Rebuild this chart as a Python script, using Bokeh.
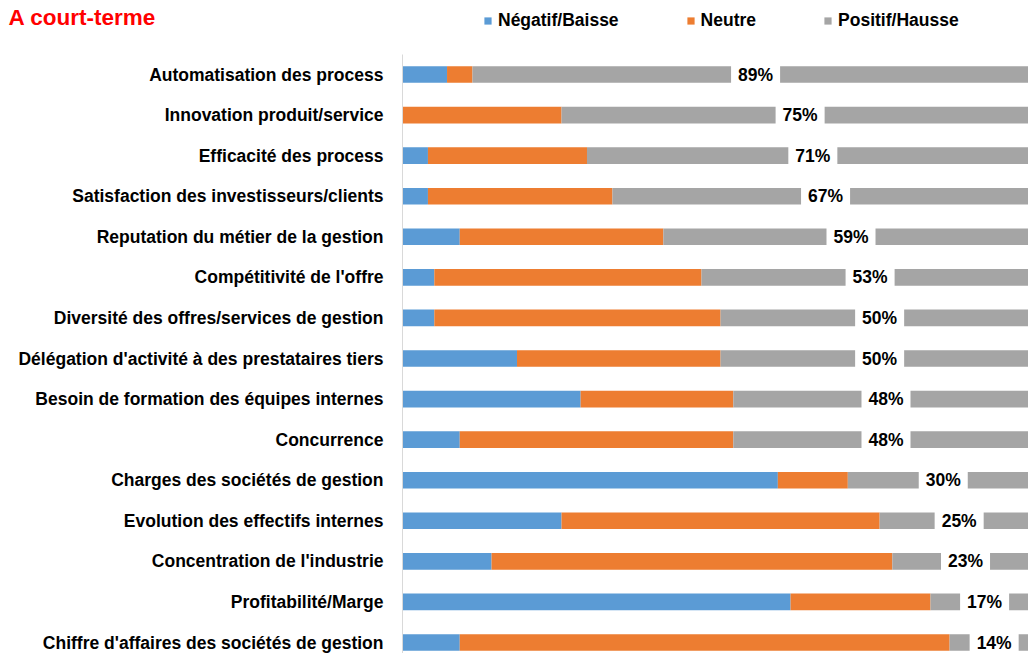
from bokeh.plotting import figure
from bokeh.layouts import column
from bokeh.models import (ColumnDataSource, FixedTicker, Legend, LegendItem, Range1d, Label)
from bokeh.core.properties import value
from bokeh.embed import file_html
from bokeh.resources import INLINE

categories = [
    "Automatisation des process",
    "Innovation produit/service",
    "Efficacité des process",
    "Satisfaction des investisseurs/clients",
    "Reputation du métier de la gestion",
    "Compétitivité de l'offre",
    "Diversité des offres/services de gestion",
    "Délégation d'activité à des prestataires tiers",
    "Besoin de formation des équipes internes",
    "Concurrence",
    "Charges des sociétés de gestion",
    "Evolution des effectifs internes",
    "Concentration de l'industrie",
    "Profitabilité/Marge",
    "Chiffre d'affaires des sociétés de gestion",
]
negatif = [7, 0, 4, 4, 9, 5, 5, 18, 28, 9, 59, 25, 14, 61, 9]
neutre = [4, 25, 25, 29, 32, 42, 45, 32, 24, 43, 11, 50, 63, 22, 77]
positif = [89, 75, 71, 67, 59, 53, 50, 50, 48, 48, 30, 25, 23, 17, 14]
series_names = ["Négatif/Baisse", "Neutre", "Positif/Hausse"]
colors = ["#5b9bd5", "#ed7d31", "#a5a5a5"]
title_text = "A court-terme"

n = len(categories)
ypos = [n - 1 - i for i in range(n)]
src = ColumnDataSource(dict(
    y=ypos,
    neg=negatif,
    neu=neutre,
    pos=positif,
    lab=[f"{v}%" for v in positif],
    labx=[a + b + c / 2 for a, b, c in zip(negatif, neutre, positif)],
))

FONT = "Liberation Sans"
FS = "17.5px"

# ---------- header: title + legend ----------
head = figure(width=1028, height=54, output_backend="svg", toolbar_location=None,
              x_range=Range1d(0, 1028), y_range=Range1d(54, 0),
              min_border_left=0, min_border_right=0, min_border_top=0,
              min_border_bottom=0, outline_line_color=None,
              x_axis_type=None, y_axis_type=None, frame_align=False)
head.xgrid.visible = False
head.ygrid.visible = False
head_r = head.hbar_stack(["neg", "neu", "pos"], y="y", height=0.41, color=colors,
                         source=src, line_color=None)
for r in head_r:
    r.visible = False
legend = Legend(items=[LegendItem(label=s, renderers=[r]) for s, r in zip(series_names, head_r)],
                orientation="horizontal", location=(483, 23), padding=0, margin=0,
                spacing=67, glyph_width=9, glyph_height=9, label_standoff=6,
                label_height=16, label_text_font=FONT, label_text_font_style="bold",
                label_text_font_size=FS, label_text_color="#000000",
                border_line_color=None, background_fill_alpha=0, click_policy="none")
head.add_layout(legend, "center")
head.add_layout(Label(x=8, y=17, text=title_text, text_color="#ff0000", text_font=FONT,
                      text_font_style="bold", text_font_size="22.5px",
                      text_baseline="middle", text_align="left"))

# ---------- main chart ----------
p = figure(width=1028, height=599, output_backend="svg", toolbar_location=None,
           x_range=Range1d(0, 98.4), y_range=Range1d(-0.271, 14.493),
           min_border_left=402, min_border_right=0, min_border_top=0,
           min_border_bottom=0, outline_line_color=None, frame_align=False)

p.hbar_stack(["neg", "neu", "pos"], y="y", height=0.41, color=colors,
             source=src, line_color=None)

p.text(x="labx", y="y", text="lab", source=src, text_align="center",
       text_baseline="middle", text_font=value(FONT), text_font_style="bold",
       text_font_size=FS, text_color="#000000",
       background_fill_color="white", padding=7)

p.xaxis.visible = False
p.xgrid.visible = False
p.ygrid.visible = False
p.yaxis.ticker = FixedTicker(ticks=ypos)
p.yaxis.major_label_overrides = {y: c for y, c in zip(ypos, categories)}
p.yaxis.major_tick_line_color = None
p.yaxis.minor_tick_line_color = None
p.yaxis.axis_line_color = "#d9d9d9"
p.yaxis.major_label_standoff = 13
p.yaxis.major_label_text_font = FONT
p.yaxis.major_label_text_font_style = "bold"
p.yaxis.major_label_text_font_size = FS
p.yaxis.major_label_text_color = "#000000"

layout = column(head, p, spacing=0)
open("out.html", "w").write(file_html(layout, INLINE))
